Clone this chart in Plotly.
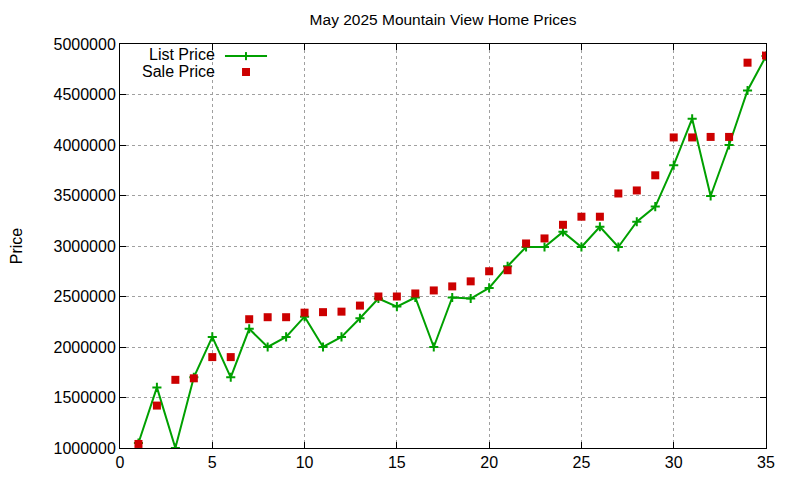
import plotly.graph_objects as go

# listing index (1..35), list price and final sale price
homes = list(range(1, 36))
list_price = [
    1050000, 1600000, 1000000, 1700000, 2100000, 1700000, 2180000, 2000000, 2100000, 2300000,
    2000000, 2100000, 2285000, 2480000, 2400000, 2490000, 2000000, 2490000, 2480000, 2585000,
    2800000, 2990000, 2990000, 3140000, 2990000, 3190000, 2990000, 3240000, 3390000, 3800000,
    4260000, 3495000, 4000000, 4540000, 4880000,
]
sale_price = [
    1040000, 1420000, 1675000, 1690000, 1900000, 1900000, 2275000, 2295000, 2295000, 2340000,
    2345000, 2350000, 2410000, 2500000, 2500000, 2530000, 2560000, 2600000, 2650000, 2750000,
    2760000, 3025000, 3075000, 3210000, 3290000, 3290000, 3520000, 3550000, 3700000, 4075000,
    4075000, 4080000, 4080000, 4815000, 4885000,
]

GREEN = '#00a000'
RED = '#cc0000'
FONT = 'Liberation Sans, Arial, sans-serif'

fig = go.Figure()
fig.add_trace(go.Scatter(
    x=homes, y=list_price, name='List Price', mode='lines+markers',
    line=dict(color=GREEN, width=2),
    marker=dict(symbol='cross-thin', size=6.5, color=GREEN, line=dict(color=GREEN, width=2)),
))
fig.add_trace(go.Scatter(
    x=homes, y=sale_price, name='Sale Price', mode='markers',
    marker=dict(symbol='square', size=8, color=RED),
))

axis_common = dict(
    showline=True, linecolor='black', linewidth=1, mirror='ticks',
    ticks='inside', ticklen=6, tickcolor='black',
    showgrid=True, gridcolor='#a0a0a0', griddash='dot', gridwidth=1,
    zeroline=False, tickfont=dict(size=16, color='black'), automargin=False,
)

fig.update_xaxes(range=[0, 35], dtick=5, tick0=0, **axis_common)
fig.update_yaxes(range=[1000000, 5000000], dtick=500000, tickformat='d',
                 title=dict(text='Price', font=dict(size=16, color='black'), standoff=34),
                 **axis_common)

# gnuplot-style key: text right aligned, sample to the right
fig.add_annotation(xref='paper', yref='paper', x=0.150, y=0.973, text='List Price',
                   showarrow=False, xanchor='right', yanchor='middle',
                   font=dict(size=16, color='black'))
fig.add_annotation(xref='paper', yref='paper', x=0.150, y=0.933, text='Sale Price',
                   showarrow=False, xanchor='right', yanchor='middle',
                   font=dict(size=16, color='black'))
fig.add_shape(type='line', xref='paper', yref='paper', x0=0.1625, x1=0.2276, y0=0.970, y1=0.970,
              line=dict(color=GREEN, width=2))
fig.add_shape(type='line', xref='paper', yref='paper', x0=0.195, x1=0.195, y0=0.960, y1=0.980,
              line=dict(color=GREEN, width=2))
fig.add_shape(type='rect', xref='paper', yref='paper', x0=0.1889, x1=0.2012, y0=0.9208, y1=0.9406,
              line=dict(width=0), fillcolor=RED)

# page body adds an 8px offset, so margins are trimmed on top/left
fig.update_layout(
    width=800, height=480,
    title=dict(text='May 2025 Mountain View Home Prices', x=0.5, xref='paper',
               y=1 - 12 / 480, yanchor='middle', font=dict(size=15.5, color='black')),
    font=dict(family=FONT, color='black'),
    plot_bgcolor='white', paper_bgcolor='white',
    showlegend=False,
    margin=dict(l=112, r=42, t=36, b=40),
)

fig.write_html('out.html')
